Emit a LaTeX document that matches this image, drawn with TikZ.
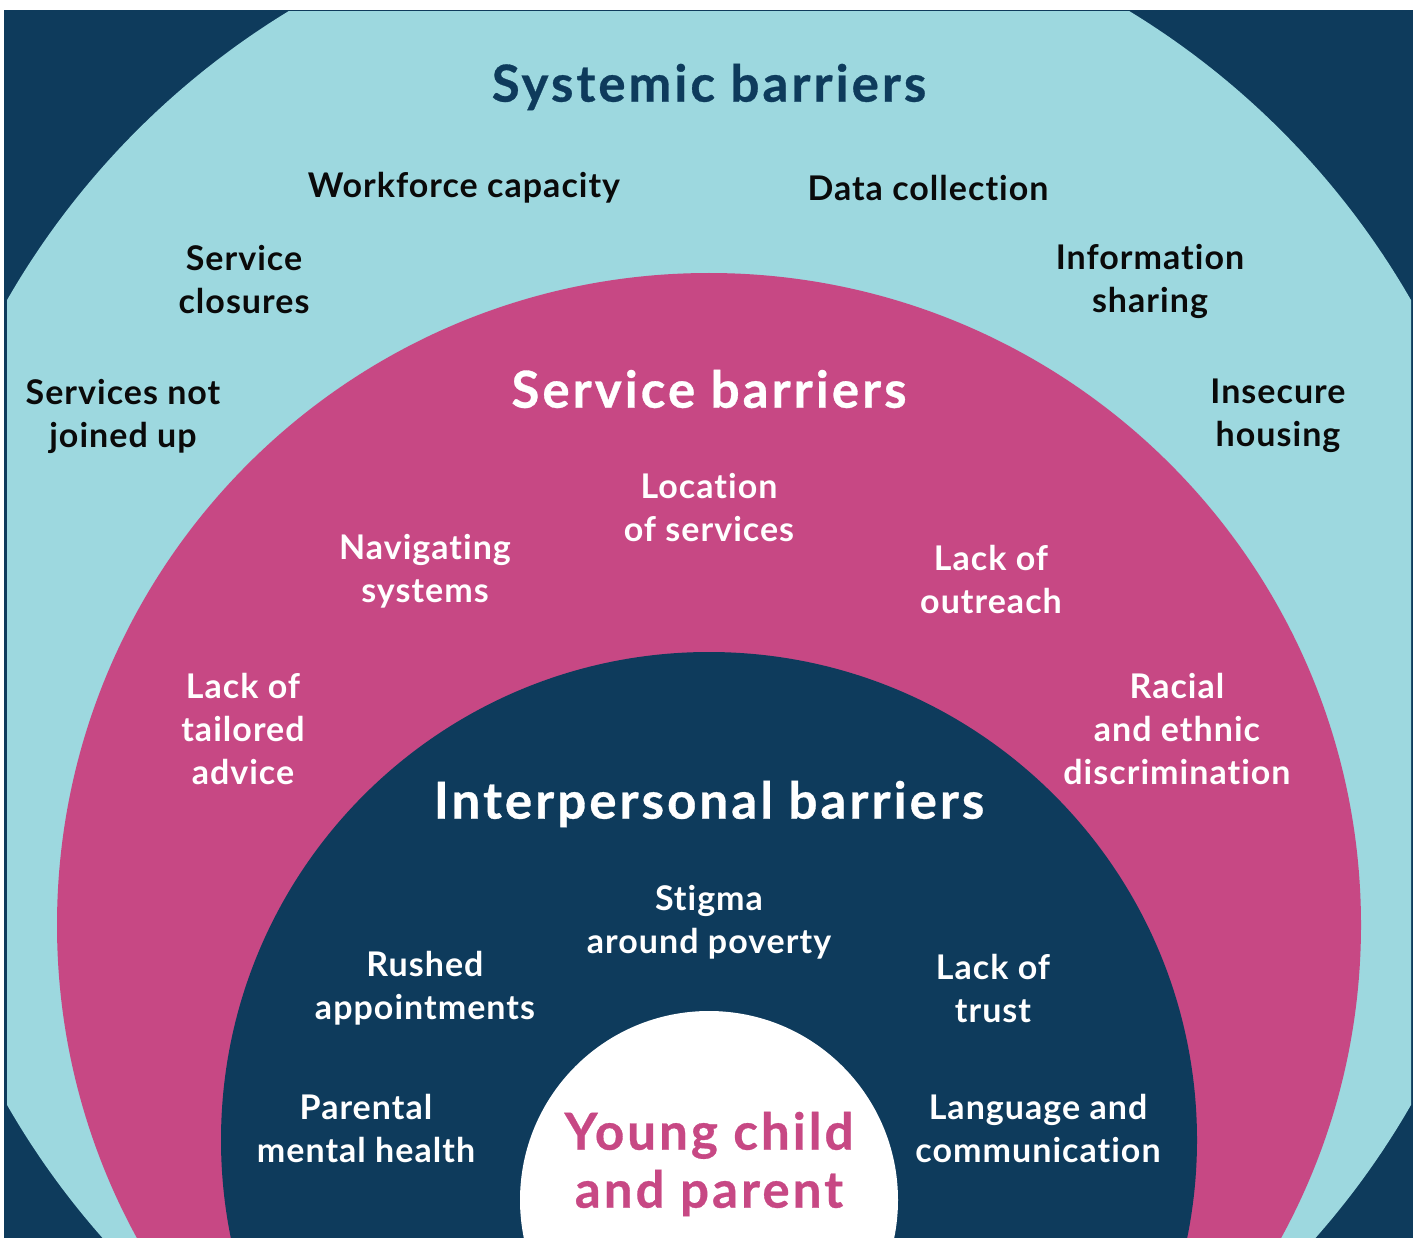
\documentclass[tikz,border=0pt]{standalone}
\usepackage{fontspec}
\setmainfont{Lato}[Ligatures=NoCommon]
\newfontfamily\itemfont{Lato}[Ligatures=NoCommon, LetterSpace=3]
\newfontfamily\headfont{Lato}[Ligatures=NoCommon, LetterSpace=6, BoldFeatures={FakeBold=0.6}]
\definecolor{navy}{HTML}{0E3B5C}
\definecolor{sky}{HTML}{9DD8DF}
\definecolor{rose}{HTML}{C74884}
\definecolor{ink}{HTML}{0A0A0A}
\begin{document}
\begin{tikzpicture}[x=1pt, y=-1pt,
	item/.style={align=center, inner sep=0pt, font=\itemfont\bfseries\fontsize{34}{43}\selectfont},
	outer/.style={item, text=ink},
	inner/.style={item, text=white},
	heading/.style={inner sep=0pt, font=\headfont\bfseries\fontsize{51}{58}\selectfont}]
	\useasboundingbox (0,0) rectangle (1418,1238);
	\fill[navy] (4,10) rectangle (1413,1238);
	\begin{scope}
		\clip (7,12) rectangle (1411,1238);
		\fill[sky] (709,702.5) circle (809);
		\fill[rose] (709,925) circle (652);
		\fill[navy] (709,1140) circle (488);
		\fill[white] (709,1200) circle (189);
	\end{scope}
	% systemic
	\node[heading, navy] (SYS) at (709,87) {Systemic barriers};
	\node[outer] (WC) at (464,188) {Workforce capacity};
	\node[outer] (DC) at (928,188) {Data collection};
	\node[outer] (SC) at (244,280) {Service\\closures};
	\node[outer] (IS) at (1150,281) {Information\\sharing};
	\node[outer] (SN) at (123,416) {Services not\\joined up};
	\node[outer] (IH) at (1278,416) {Insecure\\housing};
	% service
	\node[heading, white] (SER) at (709,389) {Service barriers};
	\node[inner] (LS) at (709,508) {Location\\of services};
	\node[inner] (NS) at (425,571) {Navigating\\systems};
	\node[inner] (LO) at (991,580) {Lack of\\outreach};
	\node[inner] (LT) at (243,729) {Lack of\\tailored\\advice};
	\node[inner] (RD) at (1177,729) {Racial\\and ethnic\\discrimination};
	% interpersonal
	\node[heading, white] (INT) at (709,804) {Interpersonal barriers};
	\node[inner] (SP) at (709,922) {Stigma\\around poverty};
	\node[inner] (RA) at (425,988) {Rushed\\appointments};
	\node[inner] (TR) at (993,988) {Lack of\\trust};
	\node[inner] (PM) at (366,1128) {Parental\\mental health};
	\node[inner] (LC) at (1038,1128) {Language and\\communication};
	% centre
	\node[heading, rose, align=center] (YC) at (709,1164) {Young child\\and parent};
\end{tikzpicture}
\end{document}
